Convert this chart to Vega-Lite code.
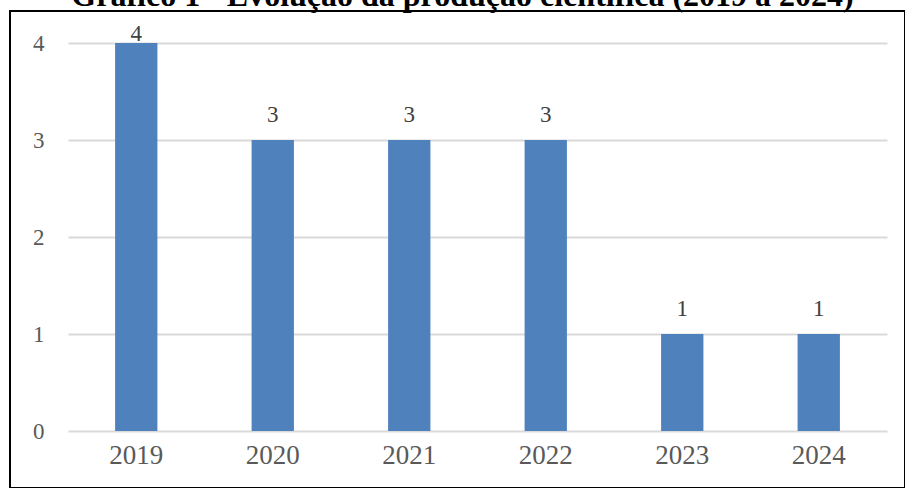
{
  "$schema": "https://vega.github.io/schema/vega-lite/v6.json",
  "autosize": "none",
  "padding": {"left": 10, "top": 11, "right": 0, "bottom": 0},
  "width": 895,
  "height": 477,
  "background": "white",
  "title": {
    "text": "Gráfico 1 - Evolução da produção científica (2019 a 2024)",
    "font": "Liberation Serif",
    "fontSize": 32,
    "fontWeight": "bold",
    "color": "black",
    "anchor": "middle",
    "baseline": "alphabetic",
    "offset": 0,
    "dy": 27,
    "dx": 5
  },
  "data": {
    "values": [
      {"ano": "2019", "n": 4},
      {"ano": "2020", "n": 3},
      {"ano": "2021", "n": 3},
      {"ano": "2022", "n": 3},
      {"ano": "2023", "n": 1},
      {"ano": "2024", "n": 1}
    ]
  },
  "encoding": {
    "x": {
      "field": "ano",
      "type": "ordinal",
      "scale": {"range": [58, 877], "paddingInner": 0.69, "paddingOuter": 0.345},
      "axis": {
        "title": null,
        "domain": false,
        "ticks": false,
        "labelAngle": 0,
        "offset": -57,
        "labelPadding": 11,
        "labelFont": "Liberation Serif",
        "labelFontSize": 27,
        "labelColor": "#595959"
      }
    },
    "y": {
      "field": "n",
      "type": "quantitative",
      "scale": {"domain": [0, 4], "range": [420, 32], "nice": false},
      "axis": {
        "title": null,
        "values": [0, 1, 2, 3, 4],
        "domain": false,
        "ticks": false,
        "offset": -58,
        "labelPadding": 24,
        "labelFont": "Liberation Serif",
        "labelFontSize": 23,
        "labelColor": "#595959",
        "gridColor": "#d9d9d9",
        "gridWidth": 2
      }
    }
  },
  "layer": [
    {"mark": {"type": "bar", "color": "#4F81BD"}},
    {
      "transform": [{"filter": "datum.n < 4"}],
      "mark": {"type": "text", "baseline": "alphabetic", "dy": -18, "font": "Liberation Serif", "fontSize": 23, "color": "#404040"},
      "encoding": {"text": {"field": "n", "type": "quantitative"}}
    },
    {
      "transform": [{"filter": "datum.n >= 4"}],
      "mark": {"type": "text", "baseline": "alphabetic", "dy": -2, "font": "Liberation Serif", "fontSize": 23, "color": "#404040"},
      "encoding": {"text": {"field": "n", "type": "quantitative"}}
    }
  ],
  "config": {
    "view": {"stroke": "black", "strokeWidth": 2}
  }
}
